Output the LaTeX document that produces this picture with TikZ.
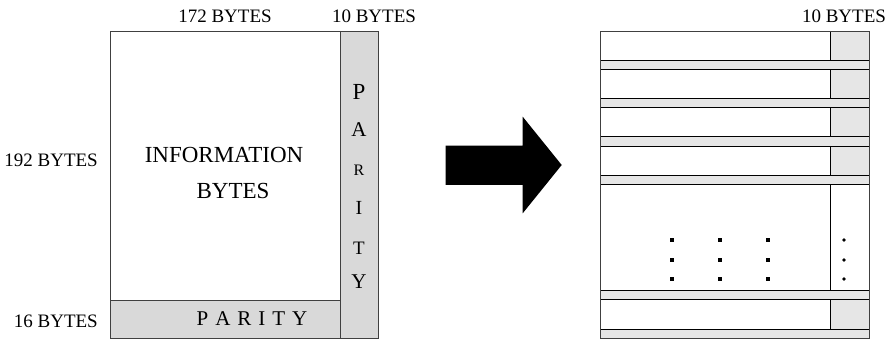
\documentclass[tikz,border=0pt]{standalone}
\usepackage{fontspec}
\setmainfont{Liberation Serif}
\definecolor{lgray}{HTML}{D9D9D9}
\definecolor{rgray}{HTML}{E6E6E6}
\begin{document}
\begin{tikzpicture}[x=1pt,y=-1pt,
  lab/.style={font=\fontsize{19}{22}\selectfont, inner sep=0pt},
  big/.style={font=\fontsize{23}{26}\selectfont, inner sep=0pt},
  boxline/.style={draw=black!75, line width=0.9pt},
  rline/.style={draw=black, line width=0.8pt},
  dotsq/.style={fill=black, minimum size=3.6pt, inner sep=0pt, rectangle},
  dotrd/.style={fill=black, minimum size=3.6pt, inner sep=0pt, circle}]
\useasboundingbox (0,0) rectangle (892,342);
% ---- left block ----
\fill[lgray] (340,31) rectangle (378.7,338);
\fill[lgray] (110,300) rectangle (340,338);
\draw[boxline] (110,31) rectangle (378.7,338);
\draw[boxline] (340,31) -- (340,338);
\draw[boxline] (110,300) -- (340,300);
\node[lab] (l172) at (225,16) {172 BYTES};
\node[lab] (l10a) at (374,16) {10 BYTES};
\node[lab, anchor=east] (l192) at (98,160) {192 BYTES};
\node[lab, anchor=east] (l16) at (98,321) {16 BYTES};
\node[big] (info1) at (224,155) {INFORMATION};
\node[big] (info2) at (233,191) {BYTES};
\node[font=\fontsize{21}{24}\selectfont, inner sep=0pt] (parb) at (252,319) {P\hspace{7pt}A\hspace{7pt}R\hspace{7pt}I\hspace{7pt}T\hspace{7pt}Y};
\node[font=\fontsize{23}{26}\selectfont, inner sep=0pt] (pv1) at (359,92) {P};
\node[font=\fontsize{21}{24}\selectfont, inner sep=0pt] (pv2) at (359,130) {A};
\node[font=\fontsize{16}{19}\selectfont, inner sep=0pt] (pv3) at (359,170) {R};
\node[font=\fontsize{20}{24}\selectfont, inner sep=0pt] (pv4) at (359,208) {I};
\node[font=\fontsize{19}{24}\selectfont, inner sep=0pt] (pv5) at (359,248) {T};
\node[font=\fontsize{21}{24}\selectfont, inner sep=0pt] (pv6) at (359,282) {Y};
% ---- arrow ----
\fill[black] (445.7,145.7) -- (522.7,145.7) -- (522.7,116.7) -- (561.7,165) -- (522.7,213.3) -- (522.7,185) -- (445.7,185) -- cycle;
% ---- right block ----
\foreach \t in {31,69.33,107.67,146,300}
  \fill[rgray] (830,\t) rectangle (869,\t+29);
\foreach \t in {60,98.33,136.67,175,290,329}
  \draw[rline, fill=rgray] (600,\t) rectangle (869,\t+9.33);
\foreach \a/\b in {31/60,69.33/98.33,107.67/136.67,146/175,184.33/290,300/329}
  \draw[rline] (830,\a) -- (830,\b);
\draw[boxline] (600,31) rectangle (869,338);
\node[lab] (l10b) at (844,16) {10 BYTES};
\foreach \x/\n in {671.7/a,720/b,768/c}
  \foreach \y/\m in {240/1,260/2,279/3}
    \node[dotsq] (d\n\m) at (\x,\y) {};
\foreach \y/\m in {240/1,260/2,279/3}
  \node[dotrd] (dp\m) at (844,\y) {};
\end{tikzpicture}
\end{document}
